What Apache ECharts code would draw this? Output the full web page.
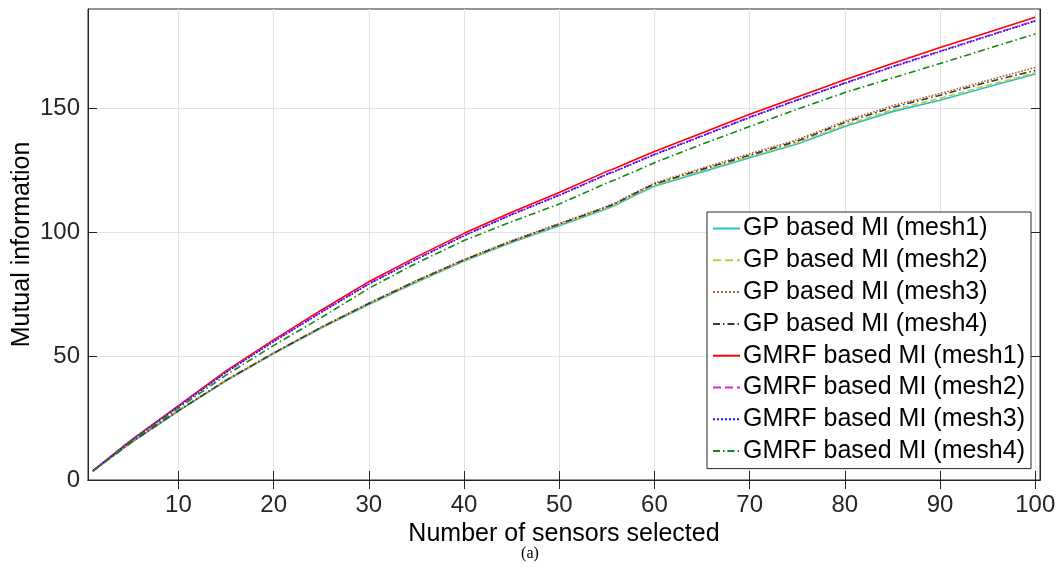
<!DOCTYPE html>
<html>
<head>
<meta charset="utf-8">
<script src="https://cdn.jsdelivr.net/npm/echarts@6/dist/echarts.min.js"></script>
<style>
  html, body { margin: 0; padding: 0; background: #fff; }
  #chart { width: 1060px; height: 582px; }
</style>
</head>
<body>
<div id="chart"></div>
<script>
  // number of sensors selected (x)
  var sensors = [1, 5, 10, 15, 20, 25, 30, 35, 40, 45, 50, 55, 56, 58, 60, 65, 70, 75, 80, 85, 90, 95, 100];

  // GP based MI
  var gpMesh1 = [3.6, 15, 27.8, 40, 51, 61.3, 70.8, 79.8, 88.3, 95.8, 102.6, 109.4, 111, 115, 118.5, 124.3, 130, 135.5, 142.6, 148.6, 153.2, 158.5, 163.8];
  var gpMesh2 = [3.6, 15, 27.9, 40.1, 51.1, 61.4, 71, 80, 88.5, 96, 102.9, 109.7, 111.3, 115.3, 118.9, 124.8, 130.5, 136, 143.2, 149.3, 154, 159.2, 164.3];
  var gpMesh3 = [3.6, 15.1, 28, 40.3, 51.3, 61.7, 71.4, 80.5, 89, 96.6, 103.5, 110.4, 112, 116, 119.8, 125.8, 131.6, 137.3, 144.8, 151, 155.9, 161.2, 166.4];
  var gpMesh4 = [3.6, 15.1, 28, 40.2, 51.2, 61.6, 71.2, 80.3, 88.8, 96.3, 103.2, 110.1, 111.7, 115.7, 119.4, 125.3, 131, 136.7, 144.2, 150.3, 155.2, 160.5, 165.2];

  // GMRF based MI
  var gmrfMesh1 = [3.7, 16, 30, 44, 56.5, 68.5, 80, 90, 99.5, 108, 116, 124.5, 126, 129.3, 132.5, 140, 147.5, 154.5, 161.5, 168, 174.5, 180.5, 186.7];
  var gmrfMesh2 = [3.7, 15.9, 29.7, 43.5, 56, 67.8, 79.2, 89.2, 98.7, 107.2, 115, 123.4, 124.9, 128.2, 131.4, 138.9, 146.4, 153.4, 160.2, 166.8, 173, 179.2, 185.3];
  var gmrfMesh3 = [3.7, 15.8, 29.6, 43.4, 55.8, 67.6, 79, 89, 98.5, 107, 114.8, 123.2, 124.7, 128, 131.2, 138.7, 146.2, 153.2, 160, 166.6, 172.8, 179, 185.1];
  var gmrfMesh4 = [3.6, 15.5, 29, 42.3, 54.3, 65.5, 77.3, 87.5, 96.6, 104.2, 111.3, 119.8, 121.3, 124.6, 128, 135.5, 142.6, 149.6, 156.3, 162.2, 168, 174, 179.9];

  var xTicks = [10, 20, 30, 40, 50, 60, 70, 80, 90, 100];
  var yTicks = [0, 50, 100, 150];

  var axisColor = '#262626';
  var gridColor = '#e3e3e3';
  var font = 'Liberation Sans, Arial, sans-serif';

  function pairs(ys) {
    return sensors.map(function (x, i) { return [x, ys[i]]; });
  }

  function makeSeries(name, ys, color, type) {
    return {
      name: name,
      type: 'line',
      data: pairs(ys),
      symbol: 'none',
      showSymbol: false,
      smooth: false,
      lineStyle: { color: color, width: 1.6, type: type },
      itemStyle: { color: color }
    };
  }

  var dashDot = [7, 3, 1.5, 3];

  var myChart = echarts.init(document.getElementById('chart'));
  var option = {
    animation: false,
    backgroundColor: '#fff',
    textStyle: { fontFamily: font },
    title: {
      text: '(a)',
      left: 'center',
      top: 541,
      textStyle: { fontFamily: 'Liberation Serif, Times New Roman, serif', fontSize: 16, fontWeight: 'normal', color: '#000' }
    },
    grid: {
      left: 88,
      right: 20,
      top: 9,
      bottom: 102,
      show: true,
      borderColor: axisColor,
      borderWidth: 1,
      backgroundColor: 'transparent',
      outerBoundsMode: 'none'
    },
    legend: {
      orient: 'vertical',
      left: 707,
      top: 212,
      padding: [4, 6, 5, 5],
      itemGap: 6.8,
      itemWidth: 27,
      itemHeight: 12,
      backgroundColor: '#fff',
      borderColor: axisColor,
      borderWidth: 1,
      itemStyle: { opacity: 0 },
      textStyle: { fontSize: 25, color: '#000', fontFamily: font, padding: [0, 0, 0, -2] },
      data: ['GP based MI (mesh1)', 'GP based MI (mesh2)', 'GP based MI (mesh3)', 'GP based MI (mesh4)',
             'GMRF based MI (mesh1)', 'GMRF based MI (mesh2)', 'GMRF based MI (mesh3)', 'GMRF based MI (mesh4)']
    },
    xAxis: [
      {
        type: 'value',
        min: 0.5,
        max: 100.5,
        position: 'bottom',
        name: 'Number of sensors selected',
        nameLocation: 'middle',
        nameGap: 42,
        nameMoveOverlap: false,
        nameTextStyle: { fontSize: 25, color: '#000' },
        axisLine: { show: true, lineStyle: { color: axisColor, width: 1 } },
        axisTick: { show: true, inside: true, length: 9, customValues: xTicks, lineStyle: { color: axisColor } },
        axisLabel: { customValues: xTicks, fontSize: 24, color: axisColor, margin: 13 },
        splitLine: { show: true, lineStyle: { color: gridColor, width: 1 } }
      },
      {
        type: 'value',
        min: 0.5,
        max: 100.5,
        position: 'top',
        axisLine: { show: true, lineStyle: { color: axisColor, width: 1 } },
        axisTick: { show: true, inside: true, length: 9, customValues: xTicks, lineStyle: { color: axisColor } },
        axisLabel: { show: false },
        splitLine: { show: false }
      }
    ],
    yAxis: [
      {
        type: 'value',
        min: 0,
        max: 190,
        position: 'left',
        name: 'Mutual information',
        nameLocation: 'middle',
        nameGap: 53,
        nameMoveOverlap: false,
        nameTextStyle: { fontSize: 25, color: '#000' },
        axisLine: { show: true, lineStyle: { color: axisColor, width: 1 } },
        axisTick: { show: true, inside: true, length: 9, customValues: yTicks, lineStyle: { color: axisColor } },
        axisLabel: { customValues: yTicks, fontSize: 24, color: axisColor, margin: 8 },
        splitLine: { show: true, lineStyle: { color: gridColor, width: 1 } }
      },
      {
        type: 'value',
        min: 0,
        max: 190,
        position: 'right',
        axisLine: { show: true, lineStyle: { color: axisColor, width: 1 } },
        axisTick: { show: true, inside: true, length: 9, customValues: yTicks, lineStyle: { color: axisColor } },
        axisLabel: { show: false },
        splitLine: { show: false }
      }
    ],
    series: [
      makeSeries('GP based MI (mesh1)', gpMesh1, '#22c3c3', 'solid'),
      makeSeries('GP based MI (mesh2)', gpMesh2, '#c8c83a', 'dashed'),
      makeSeries('GP based MI (mesh3)', gpMesh3, '#b5653a', 'dotted'),
      makeSeries('GP based MI (mesh4)', gpMesh4, '#3a3a3a', dashDot),
      makeSeries('GMRF based MI (mesh1)', gmrfMesh1, '#ff0000', 'solid'),
      makeSeries('GMRF based MI (mesh2)', gmrfMesh2, '#dd22dd', 'dashed'),
      makeSeries('GMRF based MI (mesh3)', gmrfMesh3, '#1010ff', 'dotted'),
      makeSeries('GMRF based MI (mesh4)', gmrfMesh4, '#118811', dashDot),
      { name: 'frame', type: 'line', xAxisIndex: 1, yAxisIndex: 1, data: [], symbol: 'none' }
    ]
  };
  myChart.setOption(option);
</script>
</body>
</html>
